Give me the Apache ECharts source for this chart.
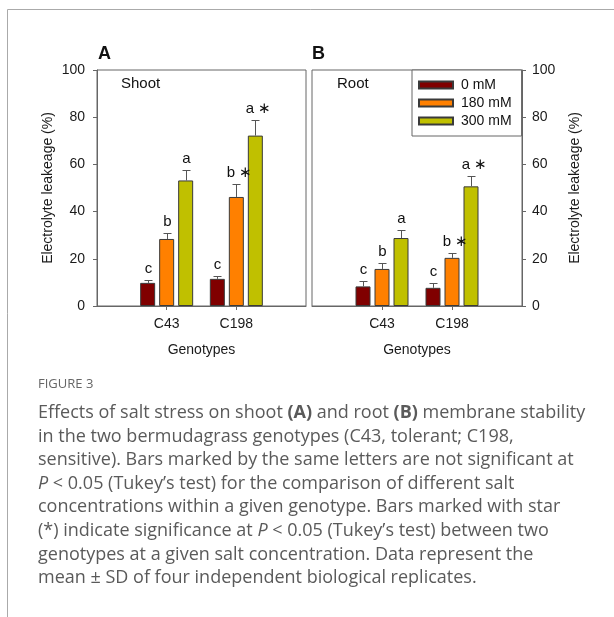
<!DOCTYPE html>
<html><head><meta charset="utf-8">
<script src="https://cdn.jsdelivr.net/npm/echarts@6/dist/echarts.min.js"></script>
<style>html,body{margin:0;padding:0;background:#fff}#c{width:614px;height:617px}</style>
</head><body><div id="c"></div>
<script>
const categories = ['C43', 'C198'];
const concentrations = ['0 mM', '180 mM', '300 mM'];
const yTicks = [0, 20, 40, 60, 80, 100];
// Shoot (panel A)
const shoot0 = [9.8, 11.5];
const shoot180 = [28.4, 46.2];
const shoot300 = [53.2, 72.2];
const shootSd0 = [1.4, 1.1];
const shootSd180 = [2.5, 5.3];
const shootSd300 = [4.6, 6.5];
const shootMarks0 = ['c', 'c'];
const shootMarks180 = ['b', 'b \u2217'];
const shootMarks300 = ['a', 'a \u2217'];
// Root (panel B)
const root0 = [8.3, 7.7];
const root180 = [15.7, 20.4];
const root300 = [28.8, 50.7];
const rootSd0 = [2.5, 2.1];
const rootSd180 = [2.4, 2.1];
const rootSd300 = [3.4, 4.2];
const rootMarks0 = ['c', 'c'];
const rootMarks180 = ['b', 'b \u2217'];
const rootMarks300 = ['a', 'a \u2217'];

const colors = ['#800000', '#FF8000', '#C0C000'];
const FONT = '"Liberation Sans", Arial, sans-serif';
const axisData = [''].concat(categories, ['']);
const padVals = v => ['-'].concat(v, ['-']);

const panels = [
  {means: [shoot0, shoot180, shoot300], sds: [shootSd0, shootSd180, shootSd300], marks: [shootMarks0, shootMarks180, shootMarks300]},
  {means: [root0, root180, root300], sds: [rootSd0, rootSd180, rootSd300], marks: [rootMarks0, rootMarks180, rootMarks300]}
];

const BAR_W = 15, STEP = 19;
const series = [];
panels.forEach((p, pi) => {
  p.means.forEach((m, si) => {
    series.push({
      type: 'bar', name: concentrations[si], xAxisIndex: pi, yAxisIndex: pi,
      data: padVals(m), barWidth: BAR_W, barGap: ((STEP - BAR_W) / BAR_W * 100) + '%',
      itemStyle: {color: colors[si], borderColor: '#3a3a3a', borderWidth: 1},
      emphasis: {disabled: true}, animation: false
    });
  });
  p.means.forEach((m, si) => {
    const data = m.map((v, ci) => [ci + 1, v, p.sds[si][ci], p.marks[si][ci]]);
    series.push({
      type: 'custom', xAxisIndex: pi, yAxisIndex: pi, z: 5, animation: false,
      encode: {x: 0, y: 1},
      data: data,
      renderItem: (params, api) => {
        const x = api.value(0), mean = api.value(1), sd = api.value(2);
        const mark = data[params.dataIndex][3];
        const b = api.coord([x, mean]);
        const t = api.coord([x, mean + sd]);
        const cx = Math.round(b[0] + (si - 1) * STEP) + 0.5;
        const ty = Math.round(t[1]) + 0.5;
        return {type: 'group', children: [
          {type: 'line', shape: {x1: cx, y1: b[1], x2: cx, y2: ty}, style: {stroke: '#555', lineWidth: 1}},
          {type: 'line', shape: {x1: cx - 4, y1: ty, x2: cx + 4, y2: ty}, style: {stroke: '#555', lineWidth: 1}},
          {type: 'text', x: cx + (mark.length > 1 ? 3 : 0), y: ty - 4, style: {text: mark, textAlign: 'center', textVerticalAlign: 'bottom', fontSize: 15, fontFamily: FONT, fill: '#111'}}
        ]};
      }
    });
  });
});

const xAxisBase = (gi) => ({
  type: 'category', gridIndex: gi, data: axisData, boundaryGap: false,
  axisLine: {onZero: false, lineStyle: {color: '#666'}},
  axisTick: {show: true, inside: false, length: 4, interval: (i) => i === 1 || i === 2, lineStyle: {color: '#666'}},
  axisLabel: {interval: 0, margin: 11, fontSize: 14, color: '#1a1a1a', fontFamily: FONT},
  name: 'Genotypes', nameLocation: 'middle', nameGap: 37,
  nameTextStyle: {fontSize: 14, color: '#1a1a1a', fontFamily: FONT},
  splitLine: {show: false}
});
const yAxisBase = (gi, pos) => ({
  type: 'value', gridIndex: gi, position: pos, min: yTicks[0], max: yTicks[yTicks.length - 1], interval: yTicks[1] - yTicks[0],
  axisLine: {show: true, onZero: false, lineStyle: {color: '#666'}},
  axisTick: {show: true, inside: false, length: 4, lineStyle: {color: '#666'}},
  axisLabel: {margin: pos === 'left' ? 12 : 10, fontSize: 14, color: '#1a1a1a', fontFamily: FONT},
  splitLine: {show: false},
  name: 'Electrolyte leakeage (%)', nameLocation: 'middle', nameRotate: 90, nameGap: pos === 'left' ? 42 : 46,
  nameTextStyle: {fontSize: 14, color: '#1a1a1a', fontFamily: FONT}
});

const captionText = [
  'Effects of salt stress on shoot {b|(A)} and root {b|(B)} membrane stability',
  'in the two bermudagrass genotypes (C43, tolerant; C198,',
  'sensitive). Bars marked by the same letters are not significant at',
  '{i|P} < 0.05 (Tukey\u2019s test) for the comparison of different salt',
  'concentrations within a given genotype. Bars marked with star',
  '(*) indicate significance at {i|P} < 0.05 (Tukey\u2019s test) between two',
  'genotypes at a given salt concentration. Data represent the',
  'mean \u00b1 SD of four independent biological replicates.'
].join('\n');
const CAP_FONT = '"Open Sans", Lato, sans-serif';
const CAP_SIZE = 18, CAP_LH = 23.6, CAP_COLOR = '#5a5a5a';

const option = {
  backgroundColor: '#fff',
  animation: false,
  grid: [
    {left: 97, top: 70, width: 209, height: 236, show: true, borderColor: '#666', borderWidth: 1},
    {left: 312, top: 70, width: 210, height: 236, show: true, borderColor: '#666', borderWidth: 1}
  ],
  xAxis: [xAxisBase(0), xAxisBase(1)],
  yAxis: [yAxisBase(0, 'left'), yAxisBase(1, 'right')],
  legend: {
    data: concentrations, orient: 'vertical', left: 412, top: 70,
    padding: [8, 10, 8, 6], itemWidth: 34, itemHeight: 7, itemGap: 4,
    borderColor: '#666', borderWidth: 1, backgroundColor: '#fff', icon: 'rect',
    textStyle: {fontSize: 14, color: '#111', fontFamily: FONT, padding: [0, 0, 0, 3]},
    selectedMode: false
  },
  graphic: [
    {type: 'line', shape: {x1: 7.5, y1: 9.5, x2: 614, y2: 9.5}, style: {stroke: '#aaa', lineWidth: 1}},
    {type: 'line', shape: {x1: 7.5, y1: 9.5, x2: 7.5, y2: 617}, style: {stroke: '#aaa', lineWidth: 1}},
    {type: 'text', left: 98, top: 45, style: {text: 'A', fontSize: 18, fontWeight: 'bold', fontFamily: FONT, fill: '#111'}},
    {type: 'text', left: 312, top: 45, style: {text: 'B', fontSize: 18, fontWeight: 'bold', fontFamily: FONT, fill: '#111'}},
    {type: 'text', left: 121, top: 76, style: {text: 'Shoot', fontSize: 15, fontFamily: FONT, fill: '#111'}},
    {type: 'text', left: 337, top: 76, style: {text: 'Root', fontSize: 15, fontFamily: FONT, fill: '#111'}},
    {type: 'text', left: 38, top: 378, style: {text: 'FIGURE 3', fontSize: 13, fontFamily: CAP_FONT, fill: '#666'}},
    {type: 'text', left: 38, top: 401, style: {
      text: captionText, fontSize: CAP_SIZE, lineHeight: CAP_LH, fontFamily: CAP_FONT, fill: CAP_COLOR,
      rich: {
        b: {fontWeight: 'bold', fontSize: CAP_SIZE, lineHeight: CAP_LH, fontFamily: CAP_FONT, fill: CAP_COLOR},
        i: {fontStyle: 'italic', fontSize: CAP_SIZE, lineHeight: CAP_LH, fontFamily: CAP_FONT, fill: CAP_COLOR}
      }
    }}
  ],
  series: series
};
const chart = echarts.init(document.getElementById('c'), null, {renderer: 'canvas'});
chart.setOption(option);
</script>
</body></html>
